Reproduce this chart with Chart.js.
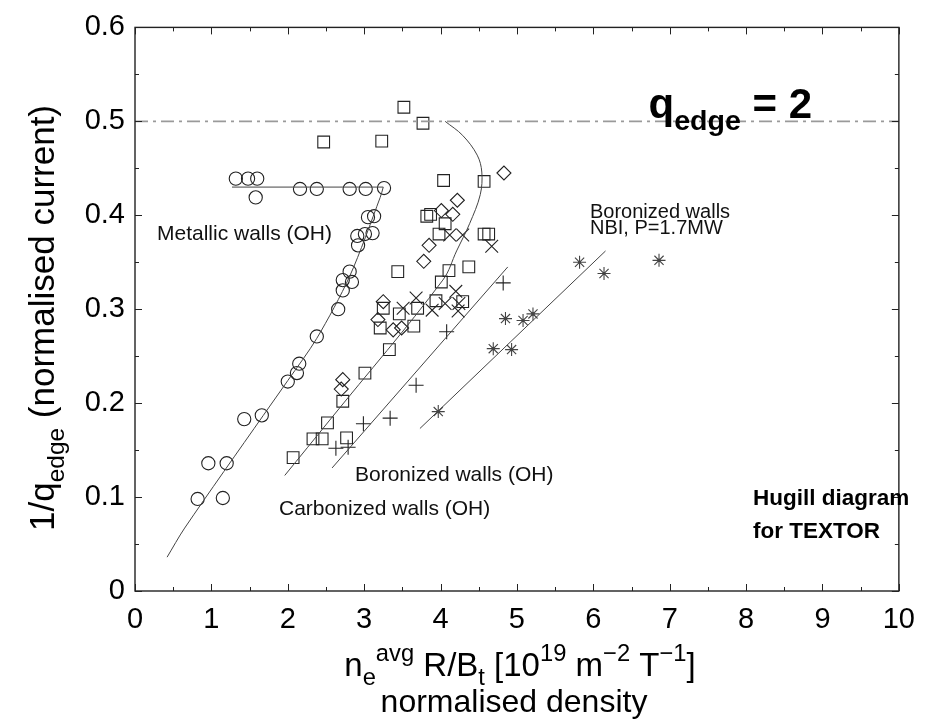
<!DOCTYPE html>
<html>
<head>
<meta charset="utf-8">
<script src="https://cdn.jsdelivr.net/npm/chart.js@4.4.1/dist/chart.umd.min.js"></script>
<style>
  html, body { margin: 0; padding: 0; background: #fff; }
  #wrap { width: 927px; height: 723px; }
</style>
</head>
<body>
<div id="wrap"><canvas id="hugill" width="927" height="723"></canvas></div>
<script>
/* Hugill diagram for TEXTOR */
var xTicks = [0, 1, 2, 3, 4, 5, 6, 7, 8, 9, 10];
var yTicks = [0, 0.1, 0.2, 0.3, 0.4, 0.5, 0.6];

// metallic walls (OH), circles
var metallicPts = [[1.32,0.439],[1.48,0.439],[1.60,0.439],[1.58,0.419],
    [2.16,0.428],[2.38,0.428],[2.81,0.428],[3.02,0.428],[3.26,0.429],
    [3.05,0.398],[3.13,0.399],[2.91,0.378],[3.01,0.380],[3.11,0.381],[2.92,0.368],
    [2.81,0.340],[2.72,0.331],[2.84,0.329],[2.72,0.320],[2.66,0.300],[2.38,0.271],
    [2.15,0.242],[2.12,0.232],[2.00,0.223],[1.66,0.187],[1.43,0.183],
    [1.20,0.136],[0.96,0.136],[0.82,0.098],[1.15,0.099]];
// carbonized walls (OH), squares
var carbonPts = [[3.52,0.515],[3.77,0.498],[3.23,0.479],[2.47,0.478],
    [4.04,0.437],[4.57,0.436],[3.82,0.399],[3.87,0.401],[4.06,0.391],[3.98,0.380],
    [4.57,0.380],[4.63,0.380],[3.44,0.340],[4.11,0.341],[4.37,0.345],[4.01,0.329],
    [3.25,0.301],[3.46,0.295],[3.70,0.301],[3.94,0.309],[4.29,0.308],
    [3.21,0.280],[3.65,0.282],[3.33,0.257],[3.01,0.232],[2.72,0.202],
    [2.52,0.179],[2.77,0.163],[2.33,0.162],[2.45,0.162],[2.07,0.142]];
var diamondPts = [[4.83,0.445],[4.22,0.416],[4.01,0.405],[4.16,0.401],[3.85,0.368],[3.78,0.351],
    [3.25,0.308],[3.18,0.289],[3.38,0.278],[3.49,0.280],[2.72,0.225],[2.70,0.215]];
var xMarkPts = [[4.12,0.379],[4.29,0.379],[4.67,0.367],[4.20,0.319],[3.68,0.312],
    [4.06,0.306],[4.24,0.306],[3.89,0.299],[3.51,0.301],[4.23,0.298]];
// boronized walls (OH), plus signs
var boronPts = [[4.82,0.328],[4.08,0.276],[3.68,0.219],[3.34,0.184],[2.99,0.178],[2.63,0.152],[2.79,0.153]];
// boronized walls, NBI P=1.7MW, stars
var nbiPts = [[5.82,0.350],[6.14,0.338],[6.86,0.352],[4.85,0.290],[5.08,0.288],[5.21,0.295],
    [4.69,0.258],[4.93,0.257],[3.97,0.191]];

// hand drawn guide lines
var metallicFit = [[0.42,0.036],[0.65,0.067],[1.68,0.187],[2.00,0.224],[2.38,0.269],[2.81,0.335],[3.21,0.419],[3.25,0.430]];
var metallicFlat = [[1.27,0.430],[3.25,0.430]];
var carbonFit = [[1.96,0.123],[2.55,0.182],[4.03,0.331],[4.21,0.362],[4.38,0.391],[4.52,0.422],
    [4.54,0.446],[4.48,0.464],[4.29,0.485],[4.06,0.500]];
var boronFit = [[2.58,0.131],[4.88,0.345]];
var nbiFit = [[3.73,0.173],[6.16,0.362]];
var qEdgeLine = [[0,0.5],[10,0.5]];

function pts(arr) {
    return arr.map(function (p) { return { x: p[0], y: p[1] }; });
}

var FONT = "'Liberation Sans', Arial, sans-serif";
var INK = '#222';

function lineSet(arr, color, width, dash, tension) {
    return {
        data: pts(arr), showLine: true, borderColor: color, borderWidth: width,
        borderDash: dash || [], pointRadius: 0, pointHoverRadius: 0,
        tension: tension || 0, fill: false
    };
}
function markSet(arr, style, radius, color) {
    return {
        data: pts(arr), showLine: false, pointStyle: style, pointRadius: radius,
        pointHoverRadius: radius, pointBorderColor: color || INK, pointBorderWidth: 1.1,
        pointBackgroundColor: 'rgba(0,0,0,0)'
    };
}

// text with sub/superscripts: parts = [[text, 'n'|'b'|'p'], ...]
function richText(ctx, parts, x, y, size, weight, align, small) {
    small = small || 0.68;
    function font(p) {
        var s = p[1] === 'n' ? size : size * small;
        return weight + ' ' + s + 'px ' + FONT;
    }
    var total = 0;
    parts.forEach(function (p) { ctx.font = font(p); total += ctx.measureText(p[0]).width; });
    var cx = align === 'center' ? x - total / 2 : (align === 'right' ? x - total : x);
    ctx.textAlign = 'left';
    ctx.textBaseline = 'alphabetic';
    parts.forEach(function (p) {
        ctx.font = font(p);
        var dy = p[1] === 'b' ? size * 0.28 : (p[1] === 'p' ? -size * 0.45 : 0);
        ctx.fillText(p[0], cx, y + dy);
        cx += ctx.measureText(p[0]).width;
    });
}

var framePlugin = {
    id: 'framePlugin',
    afterDraw: function (chart) {
        var ctx = chart.ctx, a = chart.chartArea;
        var sx = chart.scales.x, sy = chart.scales.y;
        ctx.save();
        ctx.strokeStyle = INK;
        ctx.lineWidth = 1.4;
        ctx.strokeRect(a.left, a.top, a.right - a.left, a.bottom - a.top);

        // inward ticks on all four sides
        ctx.lineWidth = 1;
        ctx.beginPath();
        var v, px, len;
        for (v = 0; v <= 20; v++) {
            px = Math.round(sx.getPixelForValue(v / 2)) + 0.5;
            len = v % 2 === 0 ? 7 : 4;
            ctx.moveTo(px, a.bottom); ctx.lineTo(px, a.bottom - len);
            ctx.moveTo(px, a.top); ctx.lineTo(px, a.top + len);
        }
        for (v = 0; v <= 12; v++) {
            px = Math.round(sy.getPixelForValue(v * 0.05)) + 0.5;
            len = v % 2 === 0 ? 7 : 4;
            ctx.moveTo(a.left, px); ctx.lineTo(a.left + len, px);
            ctx.moveTo(a.right, px); ctx.lineTo(a.right - len, px);
        }
        ctx.stroke();

        ctx.fillStyle = '#000';
        // axis titles
        richText(ctx, [['n', 'n'], ['e', 'b'], ['avg', 'p'], [' R/B', 'n'], ['t', 'b'],
            [' [10', 'n'], ['19', 'p'], [' m', 'n'], ['\u22122', 'p'], [' T', 'n'], ['\u22121', 'p'], [']', 'n']],
            520, 676, 33, 'normal', 'center', 0.72);
        richText(ctx, [['normalised density', 'n']], 514, 712, 32, 'normal', 'center');
        ctx.save();
        ctx.translate(54, 318);
        ctx.rotate(-Math.PI / 2);
        richText(ctx, [['1/q', 'n'], ['edge', 'b'], [' (normalised current)', 'n']], 0, 0, 35, 'normal', 'center', 0.7);
        ctx.restore();

        // annotations
        ctx.fillStyle = '#111';
        richText(ctx, [['Metallic walls (OH)', 'n']], 157, 240, 21, 'normal', 'left');
        richText(ctx, [['Carbonized walls (OH)', 'n']], 279, 515, 21, 'normal', 'left');
        richText(ctx, [['Boronized walls (OH)', 'n']], 355, 481, 21, 'normal', 'left');
        richText(ctx, [['Boronized walls', 'n']], 590, 218, 20, 'normal', 'left');
        richText(ctx, [['NBI, P=1.7MW', 'n']], 590, 234, 20, 'normal', 'left');
        ctx.fillStyle = '#000';
        richText(ctx, [['q', 'n'], ['edge', 'b'], [' = 2', 'n']], 812, 118, 42, 'bold', 'right');
        richText(ctx, [['Hugill diagram', 'n']], 753, 505, 22.5, 'bold', 'left');
        richText(ctx, [['for TEXTOR', 'n']], 753, 538, 22.5, 'bold', 'left');
        ctx.restore();
    }
};

new Chart(document.getElementById('hugill'), {
    type: 'scatter',
    data: {
        datasets: [
            lineSet(qEdgeLine, '#9a9a9a', 1.6, [13, 5, 3, 5]),
            lineSet(metallicFit, '#444', 1, null, 0.3),
            lineSet(metallicFlat, '#444', 1),
            lineSet(carbonFit, '#444', 1, null, 0.35),
            lineSet(boronFit, '#444', 1),
            lineSet(nbiFit, '#444', 1),
            markSet(metallicPts, 'circle', 6.6),
            markSet(carbonPts, 'rect', 8.3),
            markSet(diamondPts, 'rectRot', 7),
            markSet(xMarkPts, 'crossRot', 9),
            markSet(boronPts, 'cross', 7.5),
            markSet(nbiPts, 'star', 6.5, '#444'),
            markSet(nbiPts, 'circle', 1, '#000')
        ]
    },
    options: {
        responsive: false,
        animation: false,
        events: [],
        layout: { padding: { top: 21, right: 28, left: 0, bottom: 0 } },
        plugins: { legend: { display: false }, tooltip: { enabled: false } },
        scales: {
            x: {
                type: 'linear', min: 0, max: 10,
                afterBuildTicks: function (s) { s.ticks = xTicks.map(function (v) { return { value: v }; }); },
                afterFit: function (s) { s.height = 132; },
                grid: { display: false, drawTicks: false },
                border: { display: false },
                ticks: {
                    autoSkip: false, maxRotation: 0, padding: 12, color: '#000',
                    font: { family: FONT, size: 29 },
                    callback: function (v) { return String(v); }
                }
            },
            y: {
                type: 'linear', min: 0, max: 0.6,
                afterBuildTicks: function (s) { s.ticks = yTicks.map(function (v) { return { value: v }; }); },
                afterFit: function (s) { s.width = 135; },
                grid: { display: false, drawTicks: false },
                border: { display: false },
                ticks: {
                    autoSkip: false, padding: 10, color: '#000',
                    font: { family: FONT, size: 29 },
                    callback: function (v) { return v === 0 ? '0' : v.toFixed(1); }
                }
            }
        }
    },
    plugins: [framePlugin]
});
</script>
</body>
</html>
